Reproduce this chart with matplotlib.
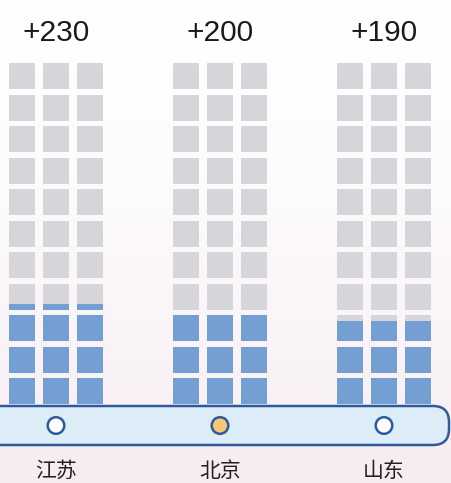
import numpy as np
import matplotlib as mpl
mpl.use("Agg")
import matplotlib.pyplot as plt
from matplotlib.patches import Rectangle, FancyBboxPatch, Circle

plt.rcParams['font.family'] = ['Liberation Sans', 'Noto Sans CJK SC', 'DejaVu Sans']

# data
provinces = ['江苏', '北京', '山东']
increase = ['+230', '+200', '+190']
fill_rows = [3.23, 3.0, 2.78]      # blue part of each column, in rows
highlight = [False, True, False]

n_rows = 11
n_cols = 3

# colours
gray = '#d6d5d9'
blue = '#739fd3'
band_fill = '#ddedf7'
band_edge = '#2f5a9c'
orange = '#f5c878'

# layout in pixels (axes = whole figure)
W, H = 451, 483
group_pitch = 164
first_center = 56
cell_w, cell_h = 26, 26
col_pitch, row_pitch = 34, 31.5
bottom_row_top = 378

fig = plt.figure(figsize=(W / 100, H / 100), dpi=100)
ax = fig.add_axes([0, 0, 1, 1])
ax.set_xlim(0, W)
ax.set_ylim(H, 0)
ax.axis('off')

# background gradient white -> light pink
grad = np.linspace(0, 1, 256).reshape(-1, 1) ** 1.6
top_c = np.array([1.0, 1.0, 1.0])
bot_c = np.array([0.965, 0.925, 0.945])
img = top_c + (bot_c - top_c) * grad[..., None]
ax.imshow(img, extent=[0, W, H, 0], aspect='auto', zorder=0)

for g, name in enumerate(provinces):
    cx = first_center + g * group_pitch
    for c in range(n_cols):
        x0 = cx + (c - 1) * col_pitch - cell_w / 2
        for r in range(n_rows):
            y_top = bottom_row_top - r * row_pitch
            ax.add_patch(Rectangle((x0, y_top), cell_w, cell_h, color=gray, lw=0, zorder=2))
            frac = min(max(fill_rows[g] - r, 0), 1)
            if frac > 0:
                ax.add_patch(Rectangle((x0, y_top + cell_h * (1 - frac)), cell_w, cell_h * frac,
                                       color=blue, lw=0, zorder=3))
    ax.text(cx, 33, increase[g], ha='center', va='center', fontsize=21.5, color='#1a1a1a', zorder=5)
    ax.text(cx, 471, name, ha='center', va='center', fontsize=15, color='#222222',
            family=['Noto Sans CJK SC', 'DejaVu Sans'], fontweight='medium', zorder=5)

# band
band = FancyBboxPatch((-40, 406), W + 40 - 2, 39, boxstyle='round,pad=0,rounding_size=16',
                      fc=band_fill, ec=band_edge, lw=1.8, zorder=4)
ax.add_patch(band)

for g in range(len(provinces)):
    cx = first_center + g * group_pitch
    ax.add_patch(Circle((cx, 425.5), 8.3, fc=orange if highlight[g] else 'white',
                        ec=band_edge, lw=1.8, zorder=6))

fig.savefig('out.png', dpi=100)
